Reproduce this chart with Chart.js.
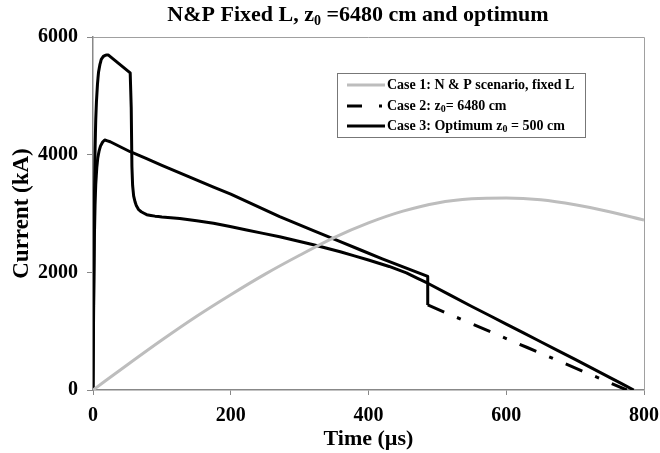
<!DOCTYPE html>
<html><head><meta charset="utf-8">
<script src="https://cdn.jsdelivr.net/npm/chart.js@4.4.0/dist/chart.umd.min.js"></script>
<style>html,body{margin:0;padding:0;background:#fff}#wrap{width:660px;height:453px;position:relative}</style>
</head><body><div id="wrap"><canvas id="c" width="660" height="453"></canvas></div>
<script>
// ---- data ----
const case1Time    = [0, 50, 100, 150, 200, 250, 300, 350, 400, 450, 500, 550, 600, 650, 700, 750, 800];
const case1Current = [0, 430, 850, 1250, 1620, 1970, 2290, 2590, 2840, 3040, 3180, 3250, 3265, 3235, 3150, 3030, 2890];

const case2Time    = [0, 0.5, 1, 2, 3, 4, 5.5, 7, 9, 11, 14, 17, 25, 54, 100, 150, 200, 271, 320, 359, 420, 486, 486, 775];
const case2Current = [0, 800, 1500, 2600, 3150, 3500, 3780, 3950, 4070, 4150, 4215, 4250, 4220, 4050, 3820, 3570, 3330, 2946, 2710, 2521, 2230, 1930, 1445, 0];

const case3Time    = [0, 0.5, 1, 1.5, 2, 3, 4, 5, 6.5, 8, 10, 12, 15, 18, 22, 54, 55.5, 56.5, 57.5, 59, 61, 63, 66, 70, 78, 90, 100, 126, 175, 223, 271, 320, 359, 400, 430, 455, 486, 550, 600, 650, 700, 750, 785];
const case3Current = [0, 1000, 1800, 2550, 3200, 4100, 4600, 4900, 5200, 5400, 5530, 5620, 5670, 5690, 5695, 5390, 4800, 3800, 3480, 3300, 3200, 3130, 3070, 3030, 2980, 2955, 2940, 2915, 2835, 2720, 2605, 2470, 2350, 2210, 2100, 1990, 1815, 1420, 1120, 820, 520, 215, 0];

const stepTime = 486;          // where case 2 switches to dash-dot
const xTicks = [0, 200, 400, 600, 800];
const yTicks = [0, 2000, 4000, 6000];

const titleParts = [{t: 'N&P Fixed L, z'}, {t: '0', sub: true}, {t: ' =6480 cm and optimum'}];
const legendParts = [
  [{t: 'Case 1: N & P scenario, fixed L'}],
  [{t: 'Case 2: z'}, {t: '0', sub: true}, {t: '= 6480 cm'}],
  [{t: 'Case 3: Optimum z'}, {t: '0', sub: true}, {t: ' = 500 cm'}]
];
const xTitle = 'Time (\u00b5s)';
const yTitle = 'Current (kA)';

// ---- styling ----
const FONT = "'Liberation Serif','Times New Roman',serif";
const GRAY = '#bdbdbd';
const DASH = [18, 14, 4, 14];

function pts(xs, ys) { return xs.map((x, i) => ({x: x, y: ys[i]})); }

function drawRich(ctx, parts, x, y, size, subSize, subDy, align) {
  const f = s => 'bold ' + s + 'px ' + FONT;
  let w = 0;
  parts.forEach(p => { ctx.font = f(p.sub ? subSize : size); w += ctx.measureText(p.t).width; });
  let cx = align === 'center' ? x - w / 2 : x;
  ctx.textBaseline = 'middle';
  ctx.textAlign = 'left';
  parts.forEach(p => {
    ctx.font = f(p.sub ? subSize : size);
    ctx.fillText(p.t, cx, y + (p.sub ? subDy : 0));
    cx += ctx.measureText(p.t).width;
  });
}

const decor = {
  id: 'decor',
  afterDraw(chart) {
    const ctx = chart.ctx, a = chart.chartArea;
    ctx.save();
    ctx.strokeStyle = '#a0a0a0'; ctx.lineWidth = 1;
    ctx.beginPath();
    ctx.moveTo(a.left, a.top + 0.5); ctx.lineTo(a.right + 0.5, a.top + 0.5); ctx.lineTo(a.right + 0.5, a.bottom);
    ctx.stroke();
    ctx.fillStyle = '#000';
    drawRich(ctx, titleParts, 358, 15, 22, 14, 6, 'center');
    const bx = 337, by = 73, bw = 248, bh = 64;
    ctx.fillStyle = '#fff'; ctx.fillRect(bx, by, bw, bh);
    ctx.strokeStyle = '#777'; ctx.lineWidth = 1;
    ctx.strokeRect(bx + 0.5, by + 0.5, bw, bh);
    const rows = [85, 106, 126];
    const styles = [
      {c: GRAY, d: []},
      {c: '#000', d: [15, 17, 3, 100]},
      {c: '#000', d: []}
    ];
    rows.forEach((ry, i) => {
      ctx.strokeStyle = styles[i].c; ctx.lineWidth = 3; ctx.setLineDash(styles[i].d);
      ctx.beginPath(); ctx.moveTo(347, ry); ctx.lineTo(385, ry); ctx.stroke();
      ctx.setLineDash([]);
      ctx.fillStyle = '#000';
      drawRich(ctx, legendParts[i], 387, ry, 14, 10, 3, 'left');
    });
    ctx.restore();
  }
};

new Chart(document.getElementById('c'), {
  type: 'line',
  data: {
    datasets: [
      {label: 'Case 1: N & P scenario, fixed L', data: pts(case1Time, case1Current), borderColor: GRAY, borderWidth: 3,
       pointRadius: 0, cubicInterpolationMode: 'monotone', fill: false},
      {label: 'Case 2: z0 = 6480 cm', data: pts(case2Time, case2Current), borderColor: '#000', borderWidth: 3,
       pointRadius: 0, tension: 0.001, fill: false, borderJoinStyle: 'round',
       segment: {borderDash: c => (c.p0.parsed.x >= stepTime && c.p1.parsed.x > stepTime) ? DASH : undefined}},
      {label: 'Case 3: Optimum z0 = 500 cm', data: pts(case3Time, case3Current), borderColor: '#000', borderWidth: 3,
       pointRadius: 0, tension: 0.001, fill: false, borderJoinStyle: 'round'}
    ]
  },
  options: {
    responsive: false, animation: false, devicePixelRatio: 1,
    layout: {padding: {top: 37, right: 16, left: 0, bottom: 0}},
    plugins: {legend: {display: false}, title: {display: false}, tooltip: {enabled: false}},
    scales: {
      x: {
        type: 'linear', min: 0, max: 800,
        afterBuildTicks: s => { s.ticks = xTicks.map(v => ({value: v})); },
        ticks: {color: '#000', font: {family: FONT, size: 20, weight: 'bold'}, padding: 9, maxRotation: 0, autoSkip: false,
                callback: v => String(v)},
        grid: {display: true, drawOnChartArea: false, drawTicks: true, tickLength: 5, color: '#888'},
        border: {display: true, color: '#888', width: 1.5},
        title: {display: true, text: xTitle, color: '#000', font: {family: FONT, size: 22, weight: 'bold'}, padding: {top: 0, bottom: 0}},
        afterFit: s => { s.height = 63; s.paddingRight = 0; s.paddingLeft = 0; }
      },
      y: {
        type: 'linear', min: 0, max: 6000,
        afterBuildTicks: s => { s.ticks = yTicks.map(v => ({value: v})); },
        ticks: {color: '#000', font: {family: FONT, size: 20, weight: 'bold'}, padding: 9, callback: v => String(v)},
        grid: {display: true, drawOnChartArea: false, drawTicks: true, tickLength: 6, color: '#888'},
        border: {display: true, color: '#888', width: 1.5},
        title: {display: true, text: yTitle, color: '#000', font: {family: FONT, size: 23, weight: 'bold'}, padding: {top: 8, bottom: 0}},
        afterFit: s => { s.width = 93; s.paddingTop = 0; s.paddingBottom = 0; }
      }
    }
  },
  plugins: [decor]
});
</script></body></html>
